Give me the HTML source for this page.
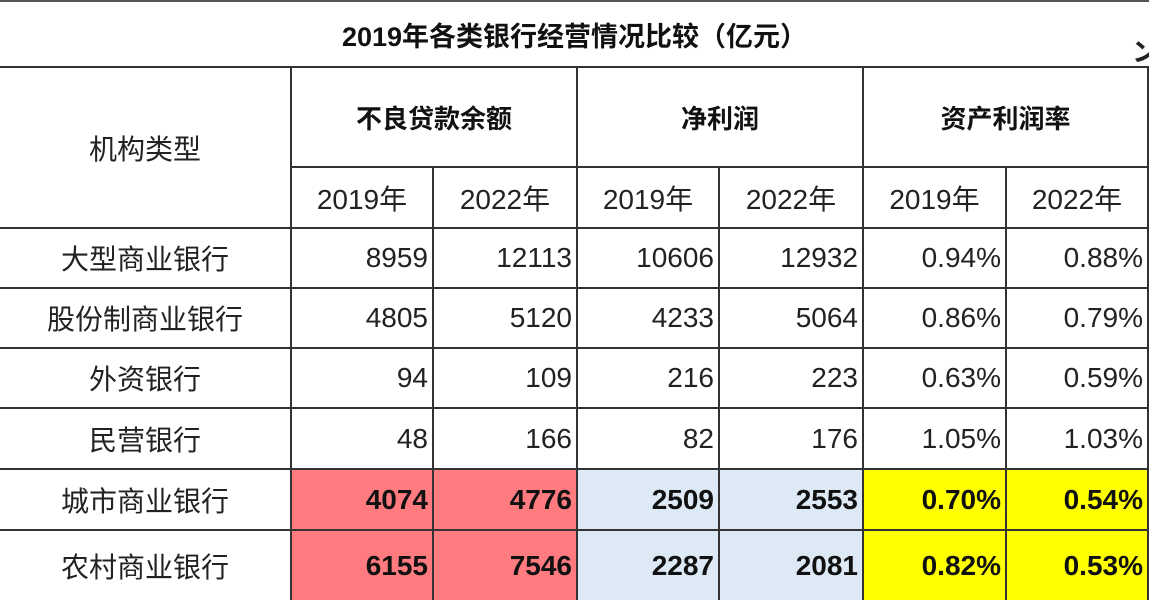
<!DOCTYPE html>
<html><head><meta charset="utf-8"><style>
body{margin:0;width:1149px;height:598px;overflow:hidden;background:#fff;font-family:"Liberation Sans","Noto Sans CJK SC",sans-serif;color:#222;}
.c{position:absolute;box-sizing:border-box;border-right:2px solid #333;border-bottom:2px solid #333;display:flex;align-items:center;font-size:28px;}
.r{justify-content:flex-end;padding-right:4px;}
.m{justify-content:center;}
.b{font-weight:bold;color:#111;}
.red{background:#ff7b7f}.blu{background:#dde9f5}.yel{background:#ffff00}
</style></head><body>
<div style="position:absolute;left:0;top:0;width:1149px;height:2px;background:#555"></div>
<div class="c m b" style="left:0;top:2px;width:1149px;height:66px;font-size:27px;border-right:none">2019年各类银行经营情况比较（亿元）</div>
<div style="position:absolute;left:1132px;top:32px;font-size:26px;font-weight:bold">ン</div>
<div class="c m" style="left:0;top:68px;width:292px;height:161px">机构类型</div>
<div class="c m b" style="left:292px;top:68px;width:286px;height:100px;font-size:26px">不良贷款余额</div>
<div class="c m b" style="left:578px;top:68px;width:286px;height:100px;font-size:26px">净利润</div>
<div class="c m b" style="left:864px;top:68px;width:285px;height:100px;font-size:26px">资产利润率</div>
<div id="g"></div>
<script>
var cols=[292,434,578,720,864,1007,1149];
var rowsY=[168,229,289,349,409,470,531,600];
var data=[
["2019年","2022年","2019年","2022年","2019年","2022年"],
["大型商业银行","8959","12113","10606","12932","0.94%","0.88%"],
["股份制商业银行","4805","5120","4233","5064","0.86%","0.79%"],
["外资银行","94","109","216","223","0.63%","0.59%"],
["民营银行","48","166","82","176","1.05%","1.03%"],
["城市商业银行","4074","4776","2509","2553","0.70%","0.54%"],
["农村商业银行","6155","7546","2287","2081","0.82%","0.53%"]];
var h="";
for(var i=0;i<6;i++)h+='<div class="c m" style="left:'+cols[i]+'px;top:168px;width:'+(cols[i+1]-cols[i])+'px;height:61px">'+data[0][i]+'</div>';
for(var r=1;r<7;r++){var y=rowsY[r],hh=rowsY[r+1]-y;var nb=r==6?'border-bottom:none;':'';
h+='<div class="c m" style="'+nb+'left:0;top:'+y+'px;width:292px;height:'+hh+'px">'+data[r][0]+'</div>';
for(var i=0;i<6;i++){var cls="c r";if(r>=5){cls+=" b "+(i<2?"red":i<4?"blu":"yel");}
h+='<div class="'+cls+'" style="'+nb+'left:'+cols[i]+'px;top:'+y+'px;width:'+(cols[i+1]-cols[i])+'px;height:'+hh+'px">'+data[r][i+1]+'</div>';}}
document.getElementById("g").innerHTML=h;
</script>
</body></html>
